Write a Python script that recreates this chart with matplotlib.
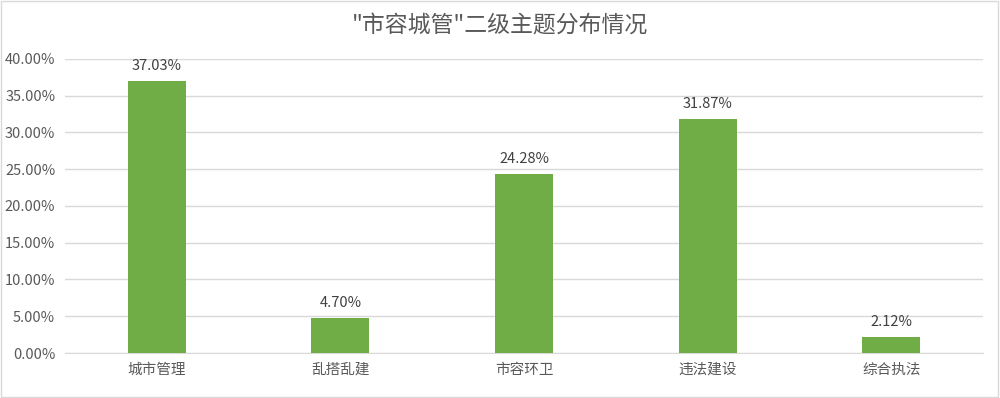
import matplotlib
matplotlib.use("Agg")
import matplotlib.pyplot as plt
from matplotlib.patches import Rectangle
from matplotlib.ticker import FuncFormatter

plt.rcParams['font.family'] = ['Noto Sans CJK SC', 'DejaVu Sans']

categories = ["城市管理", "乱搭乱建", "市容环卫", "违法建设", "综合执法"]
values = [37.03, 4.70, 24.28, 31.87, 2.12]
yticks = [0, 5, 10, 15, 20, 25, 30, 35, 40]
title = "\"市容城管\"二级主题分布情况"

fig = plt.figure(figsize=(10, 3.98), dpi=100)
ax = fig.add_axes([0.065, 0.113, 0.918, 0.739])
text_color = "#595959"

x = range(len(categories))
bars = ax.bar(x, values, width=0.316, color="#70AD47", zorder=3)
for xi, v in zip(x, values):
    ax.text(xi, v + 1.1, f"{v:.2f}%", ha="center", va="bottom", fontsize=10.5, color="#404040")

ax.set_xlim(-0.5, len(categories) - 0.5)
ax.set_ylim(0, 40)
ax.set_yticks(yticks)
ax.yaxis.set_major_formatter(FuncFormatter(lambda v, p: f"{v:.2f}%"))
ax.set_xticks(list(x))
ax.set_xticklabels(categories)
ax.tick_params(axis="both", length=0, colors=text_color, labelsize=10.5)
ax.tick_params(axis="x", pad=7)
ax.tick_params(axis="y", pad=7)
ax.grid(axis="y", color="#D9D9D9", linewidth=1, zorder=0)
for s in ["top", "right", "left"]:
    ax.spines[s].set_visible(False)
ax.spines["bottom"].set_color("#D9D9D9")

fig.text(0.5, 0.935, title, ha="center", va="center", fontsize=16.5, color=text_color)
fig.patches.append(Rectangle((0.001, 0.002), 0.997, 0.995, transform=fig.transFigure,
                             fill=False, edgecolor="#D9D9D9", linewidth=1))

fig.savefig("out.png", dpi=100)
